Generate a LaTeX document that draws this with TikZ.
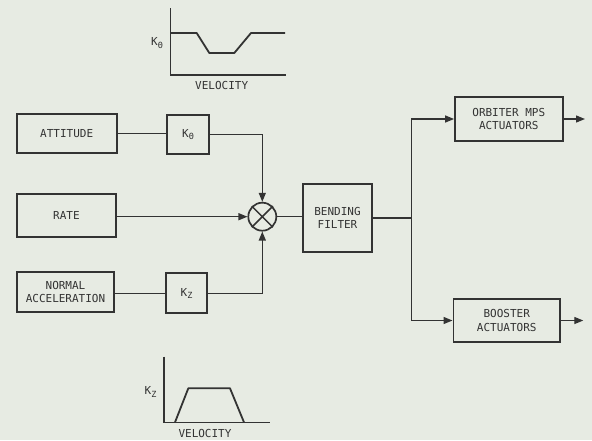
\documentclass[tikz,border=0pt]{standalone}
\usepackage{fontspec}
\setmonofont{DejaVu Sans Mono}
\usetikzlibrary{arrows.meta}
\definecolor{bg}{HTML}{E7EBE3}
\definecolor{ink}{HTML}{333333}
\begin{document}
\begin{tikzpicture}[x=1pt,y=-1pt,
  txt/.style={font=\ttfamily\fontsize{11}{13.5}\selectfont, text=ink, inner sep=0pt, align=center},
  blk/.style={txt, draw=ink, line width=1.7pt},
  conn/.style={draw=ink, line width=1.3pt},
  arr/.style={conn, -{Triangle[length=9pt,width=7pt]}},
  axis/.style={draw=ink, line width=1.5pt},
  curve/.style={draw=ink, line width=1.8pt, line join=round}]
\fill[bg] (0,0) rectangle (592,440);
\useasboundingbox (0,0) rectangle (592,440);

% blocks
\node[blk, minimum width=100pt, minimum height=39pt] (att) at (66.7,133.7) {ATTITUDE};
\node[blk, minimum width=42.6pt, minimum height=39pt] (kth) at (188,134.5) {K\raisebox{-2.5pt}{\fontsize{8.5}{8.5}\selectfont Θ}};
\node[blk, minimum width=99.3pt, minimum height=42.4pt] (rate) at (66.4,215.5) {RATE};
\node[blk, minimum width=97.6pt, minimum height=39.4pt] (nacc) at (65.5,292) {NORMAL\\ACCELERATION};
\node[blk, minimum width=41.6pt, minimum height=40pt] (kz) at (186.5,293.3) {K\raisebox{-2.5pt}{\fontsize{8.5}{8.5}\selectfont Z}};
\node[draw=ink, line width=1.7pt, circle, minimum size=28pt, inner sep=0pt] (sum) at (262.3,216.7) {};
\draw[conn, line width=1.5pt] (sum.north east) -- (sum.south west) (sum.north west) -- (sum.south east);
\node[blk, minimum width=68.4pt, minimum height=67.4pt] (bend) at (337.5,218) {BENDING\\FILTER};
\node[blk, minimum width=107.7pt, minimum height=43.4pt] (orb) at (508.8,119) {ORBITER MPS\\ACTUATORS};
\node[blk, minimum width=106.7pt, minimum height=42.4pt] (boo) at (506.7,320.5) {BOOSTER\\ACTUATORS};

\coordinate (split) at (411.7,218);
\coordinate (orbout) at (585,119);
\coordinate (booout) at (583.3,320.5);

% connectors
\draw[conn] (att.east) -- (att.east -| kth.west);
\draw[arr] (kth.east) -| (sum.north);
\draw[arr] (rate.east |- sum.west) -- (sum.west);
\draw[conn] (nacc.east |- kz.west) -- (kz.west);
\draw[arr] (kz.east) -| (sum.south);
\draw[conn] (sum.east) -- (sum.east -| bend.west);
\draw[conn] (bend.east |- split) -- (split);
\draw[arr] (split) |- (orb.west);
\draw[arr] (split) |- (boo.west);
\draw[arr] (orb.east) -- (orbout);
\draw[arr] (boo.east) -- (booout);

% top gain schedule
\draw[axis] (170.7,8) -- (170.7,75) -- (285.7,75);
\draw[curve] (170.7,33) -- (196.7,33) -- (209.3,53) -- (234.3,53) -- (251,33) -- (285,33);
\node[txt] (kthlbl) at (157,43) {K\raisebox{-2.5pt}{\fontsize{8.5}{8.5}\selectfont Θ}};
\node[txt] (vel1) at (221.7,85.5) {VELOCITY};

% bottom gain schedule
\draw[axis] (164,356.7) -- (164,422.3) -- (270,422.3);
\draw[curve] (175,422.3) -- (188.3,388.3) -- (230,388.3) -- (244,422.3);
\node[txt] (kzlbl) at (150.5,392) {K\raisebox{-2.5pt}{\fontsize{8.5}{8.5}\selectfont Z}};
\node[txt] (vel2) at (205,433.5) {VELOCITY};
\end{tikzpicture}
\end{document}
